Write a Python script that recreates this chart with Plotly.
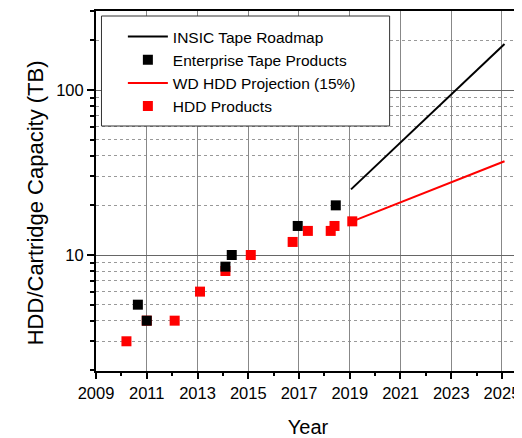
import plotly.graph_objects as go

# Data
hdd_years = [2010.2, 2011.0, 2012.1, 2013.1, 2014.1, 2015.1, 2016.75, 2017.35, 2018.25, 2018.4, 2019.1]
hdd_tb = [3, 4, 4, 6, 8, 10, 12, 14, 14, 15, 16]

tape_years = [2010.65, 2011.0, 2014.1, 2014.35, 2016.95, 2018.45]
tape_tb = [5, 4, 8.5, 10, 15, 20]

insic_years = [2019.05, 2025.1]
insic_tb = [25, 190]

wd_years = [2019.1, 2025.1]
wd_tb = [16, 37]

x_ticks = [2009, 2011, 2013, 2015, 2017, 2019, 2021, 2023, 2025]
y_ticks = [10, 100]

FONT = "Liberation Sans, Arial, sans-serif"

# page body has an 8px default margin; compensate so the plot lands where the reference has it
PAGE = 8
W, H = 522 - PAGE, 438 - PAGE
L, T, B = 96 - PAGE, 11 - PAGE, 67
PW, PH = W - L, H - T - B


def px_x(x):  # page pixel -> paper x
    return (x - PAGE - L) / PW


def px_y(y):  # page pixel -> paper y
    return 1 - (y - PAGE - T) / PH


fig = go.Figure()
fig.add_trace(go.Scatter(x=hdd_years, y=hdd_tb, mode="markers", name="HDD Products",
                         marker=dict(symbol="square", size=10, color="#ff0000", line=dict(width=0)),
                         legendrank=4))
fig.add_trace(go.Scatter(x=wd_years, y=wd_tb, mode="lines", name="WD HDD Projection (15%)",
                         line=dict(color="#ff0000", width=2), legendrank=3))
fig.add_trace(go.Scatter(x=tape_years, y=tape_tb, mode="markers", name="Enterprise Tape Products",
                         marker=dict(symbol="square", size=10, color="#000000", line=dict(width=0)),
                         legendrank=2))
fig.add_trace(go.Scatter(x=insic_years, y=insic_tb, mode="lines", name="INSIC Tape Roadmap",
                         line=dict(color="#000000", width=2), legendrank=1))

fig.update_layout(
    width=W, height=H,
    margin=dict(l=L, r=0, t=T, b=B),
    paper_bgcolor="white", plot_bgcolor="white",
    font=dict(family=FONT, size=16, color="black"),
    showlegend=True,
    legend=dict(x=px_x(123), y=px_y(20), xanchor="left", yanchor="top",
                bgcolor="rgba(0,0,0,0)", borderwidth=0, itemwidth=40,
                font=dict(family=FONT, size=15.5, color="black"),
                tracegroupgap=0),
    shapes=[dict(type="rect", xref="paper", yref="paper",
                 x0=px_x(101.5), x1=px_x(391), y0=px_y(126), y1=px_y(16),
                 fillcolor="white", line=dict(color="#333333", width=1), layer="above")],
    xaxis=dict(
        range=[2009, 2025.71], tickvals=x_ticks, ticktext=[str(v) for v in x_ticks],
        showgrid=True, gridcolor="#888888", gridwidth=1,
        showline=True, linecolor="black", linewidth=2, mirror=True,
        ticks="outside", ticklen=6, tickwidth=1.5, tickcolor="black",
        tickfont=dict(size=16.5),
        minor=dict(dtick=1, tick0=2009, ticks="outside", ticklen=3, tickwidth=1.5,
                   tickcolor="black", showgrid=False),
        title=dict(text="Year", font=dict(size=20), standoff=20),
        zeroline=False,
    ),
    yaxis=dict(
        type="log", range=[0.297, 2.479], tickvals=y_ticks, ticktext=[str(v) for v in y_ticks],
        showgrid=True, gridcolor="#666666", gridwidth=1,
        showline=True, linecolor="black", linewidth=2, mirror=True,
        ticks="outside", ticklen=7, tickwidth=1.5, tickcolor="black",
        tickfont=dict(size=16.5),
        minor=dict(dtick="D1", ticks="outside", ticklen=4, tickwidth=1.5, tickcolor="black",
                   showgrid=True, gridcolor="#999999", griddash="dot", gridwidth=1),
        title=dict(text=""),
        zeroline=False,
    ),
    annotations=[dict(text="HDD/Cartridge Capacity (TB)", textangle=-90,
                      xref="paper", yref="paper", x=px_x(35), y=px_y(203),
                      xanchor="center", yanchor="middle", showarrow=False,
                      font=dict(family=FONT, size=22, color="black"))],
)

fig.write_html("out.html")
